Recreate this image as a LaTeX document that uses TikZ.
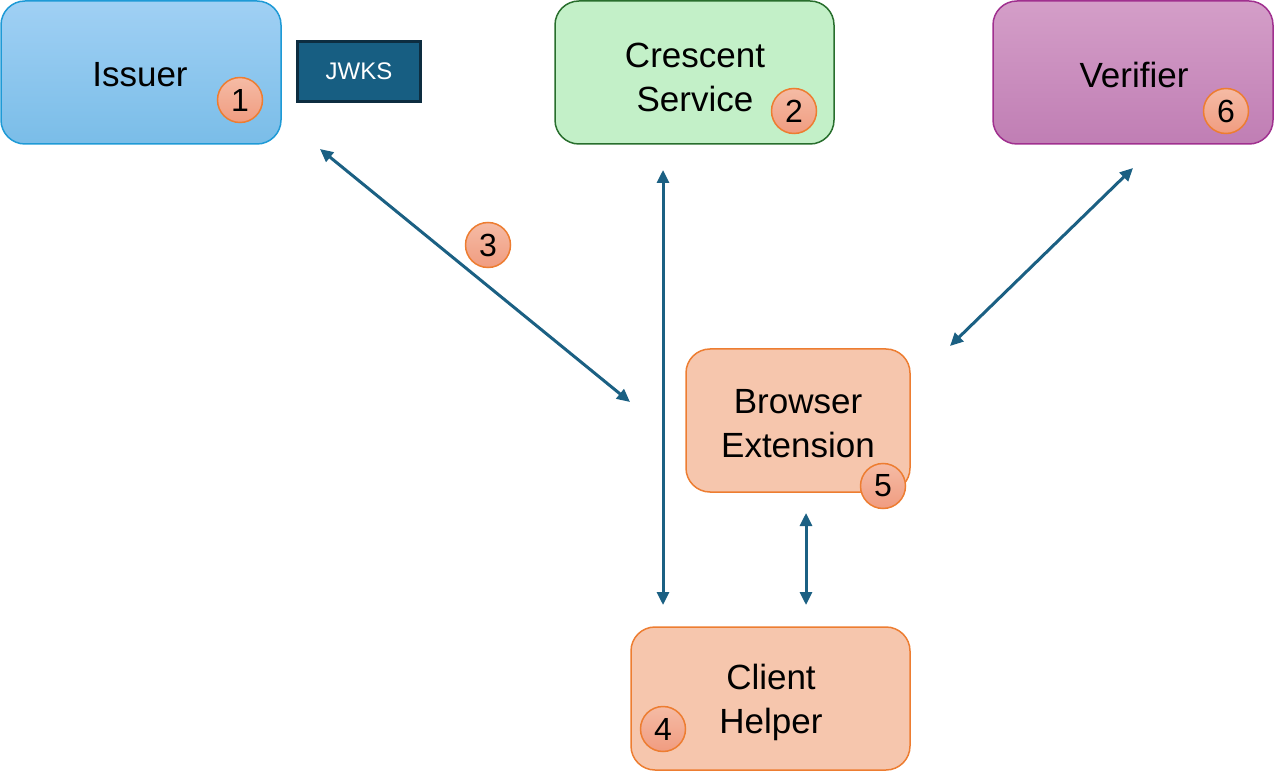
\documentclass[tikz,border=0pt]{standalone}
\usepackage{fontspec}
\setmainfont{Liberation Sans}
\usetikzlibrary{arrows.meta}
\definecolor{arrowc}{HTML}{1B6083}
\definecolor{numfill1}{HTML}{F5BBA5}
\definecolor{numfill2}{HTML}{F09C80}
\definecolor{numdraw}{HTML}{ED7D31}
\definecolor{peach}{HTML}{F6C6AD}
\definecolor{isstop}{RGB}{160,208,244}
\definecolor{issbot}{RGB}{122,189,232}
\definecolor{issdraw}{RGB}{30,154,214}
\definecolor{jwksdraw}{RGB}{13,45,64}
\definecolor{jwksfill}{RGB}{23,94,130}
\definecolor{crefill}{RGB}{195,240,200}
\definecolor{credraw}{RGB}{40,110,45}
\definecolor{vertop}{RGB}{212,158,200}
\definecolor{verbot}{RGB}{192,126,180}
\definecolor{verdraw}{RGB}{160,48,143}
\tikzset{
  box/.style={rounded corners=24pt, line width=1.5pt, inner sep=0pt, align=center,
    font=\fontsize{35}{44}\selectfont},
  label35/.style={align=center, font=\fontsize{35}{44}\selectfont},
  num/.style={circle, minimum size=45pt, inner sep=0pt, draw=numdraw, line width=1.5pt,
    top color=numfill1, bottom color=numfill2, font=\fontsize{32}{32}\selectfont},
  link/.style={draw=arrowc, line width=3pt, {Triangle[length=13pt,width=12pt]}-{Triangle[length=13pt,width=12pt]}},
}
\begin{document}
\begin{tikzpicture}[x=1pt,y=-1pt]
\useasboundingbox (0,0) rectangle (1274,775);
% boxes
\node[box, minimum width=280pt, minimum height=143pt, top color=isstop, bottom color=issbot, draw=issdraw] (issuer) at (141,72.5) {};
\node[label35] (issuertxt) at (140,75) {Issuer};
\node[draw=jwksdraw, fill=jwksfill, line width=2.5pt, minimum width=123pt, minimum height=60pt, inner sep=0pt, text=white, font=\fontsize{24}{24}\selectfont] (jwks) at (359,71.5) {JWKS};
\node[box, minimum width=279pt, minimum height=143pt, fill=crefill, draw=credraw] (crescent) at (694.5,72.5) {};
\node[label35] (crescenttxt) at (695,77) {Crescent\\Service};
\node[box, minimum width=280pt, minimum height=143pt, top color=vertop, bottom color=verbot, draw=verdraw] (verifier) at (1133,72.5) {};
\node[label35] (verifiertxt) at (1134,75) {Verifier};
\node[box, minimum width=224pt, minimum height=143pt, fill=peach, draw=numdraw] (browser) at (798,420.5) {};
\node[label35] (browsertxt) at (798,424) {Browser\\Extension};
\node[box, minimum width=279pt, minimum height=143pt, fill=peach, draw=numdraw] (client) at (770.5,698.5) {};
\node[label35] (clienttxt) at (771,702) {Client\\Helper};
% numbers
\node[num] (n1) at (240,100) {1};
\node[num] (n2) at (794,111) {2};
\node[num] (n3) at (488,245) {3};
\node[num] (n4) at (663,729) {4};
\node[num] (n5) at (883,486) {5};
\node[num] (n6) at (1226,111) {6};
% connector ends
\coordinate (a1) at (320,149);
\coordinate (a2) at (630,402);
\coordinate (b1) at (663,170);
\coordinate (b2) at (663,605);
\coordinate (c1) at (806,513);
\coordinate (c2) at (806,605);
\coordinate (d1) at (1133,168);
\coordinate (d2) at (950,346);
\draw[link] (a1) -- (a2);
\draw[link] (b1) -- (b2);
\draw[link] (c1) -- (c2);
\draw[link] (d1) -- (d2);
\end{tikzpicture}
\end{document}
